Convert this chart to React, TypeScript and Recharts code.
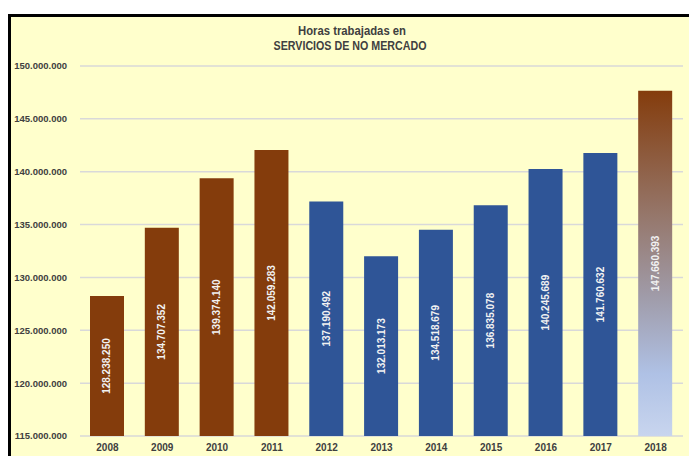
import { Bar, BarChart, CartesianGrid, Cell, LabelList, XAxis, YAxis } from "recharts";

const years = ["2008", "2009", "2010", "2011", "2012", "2013", "2014", "2015", "2016", "2017", "2018"];
const hours = [
  128238250, 134707352, 139374140, 142059283, 137190492, 132013173, 134518679, 136835078, 140245689,
  141760632, 147660393,
];
const yTicks = [115000000, 120000000, 125000000, 130000000, 135000000, 140000000, 145000000, 150000000];

const rows = years.map((year, i) => ({ year, hours: hours[i] }));

const BROWN = "#843C0C";
const BLUE = "#2F5597";
const FONT = "'Liberation Sans', Arial, sans-serif";

const fmt = (v: number) => String(Math.round(v)).replace(/\B(?=(\d{3})+(?!\d))/g, ".");

function barFill(year: string) {
  if (year === "2018") return "url(#grad2018)";
  return Number(year) <= 2011 ? BROWN : BLUE;
}

function VerticalLabel(props: any) {
  const { x, y, width, height, value } = props;
  const cx = x + width / 2;
  const cy = y + height / 2;
  return (
    <text
      x={cx}
      y={cy}
      transform={`rotate(-90, ${cx}, ${cy})`}
      textAnchor="middle"
      dominantBaseline="central"
      fill="#F2F2F2"
      fontSize={10}
      fontWeight="bold"
      fontFamily={FONT}
    >
      {fmt(value)}
    </text>
  );
}

export default function App() {
  return (
    <div style={{ position: "absolute", left: 0, top: 0, width: 689, height: 456, background: "#fff", overflow: "hidden" }}>
      <div
        style={{
          position: "absolute",
          left: 8,
          top: 14,
          width: 700,
          height: 460,
          border: "3px solid #000",
          background: "#FFFFCC",
        }}
      />
      <div style={{ position: "absolute", left: 0, top: 0 }}>
        <BarChart width={689} height={456} data={rows} margin={{ top: 66, right: 6, bottom: 0, left: 0 }} barSize={34}>
          <defs>
            <linearGradient id="grad2018" x1="0" y1="0" x2="0" y2="1">
              <stop offset="0%" stopColor="#843C0C" />
              <stop offset="35%" stopColor="#957568" />
              <stop offset="60%" stopColor="#A09CAA" />
              <stop offset="82%" stopColor="#AFC1E5" />
              <stop offset="100%" stopColor="#C8D5EE" />
            </linearGradient>
          </defs>
          <text
            x={352}
            y={31}
            textAnchor="middle"
            dominantBaseline="central"
            fontSize={12.5}
            fontWeight="bold"
            fill="#404040"
            fontFamily={FONT}
            textLength={108}
            lengthAdjust="spacingAndGlyphs"
          >
            Horas trabajadas en
          </text>
          <text
            x={350}
            y={46}
            textAnchor="middle"
            dominantBaseline="central"
            fontSize={12.5}
            fontWeight="bold"
            fill="#404040"
            fontFamily={FONT}
            textLength={153}
            lengthAdjust="spacingAndGlyphs"
          >
            SERVICIOS DE NO MERCADO
          </text>
          <CartesianGrid vertical={false} stroke="#D9D9D9" strokeWidth={1.5} />
          <XAxis
            dataKey="year"
            axisLine={false}
            tickLine={false}
            height={20}
            tick={{ fontSize: 10, fontWeight: "bold", fill: "#404040", fontFamily: FONT }}
          />
          <YAxis
            domain={[115000000, 150000000]}
            ticks={yTicks}
            allowDataOverflow
            width={80}
            axisLine={false}
            tickLine={false}
            tickMargin={7}
            tickFormatter={fmt}
            tick={{ fontSize: 9.5, fontWeight: "bold", fill: "#404040", fontFamily: FONT }}
          />
          <Bar dataKey="hours" isAnimationActive={false}>
            {rows.map((r) => (
              <Cell key={r.year} fill={barFill(r.year)} />
            ))}
            <LabelList dataKey="hours" content={VerticalLabel} />
          </Bar>
        </BarChart>
      </div>
    </div>
  );
}
